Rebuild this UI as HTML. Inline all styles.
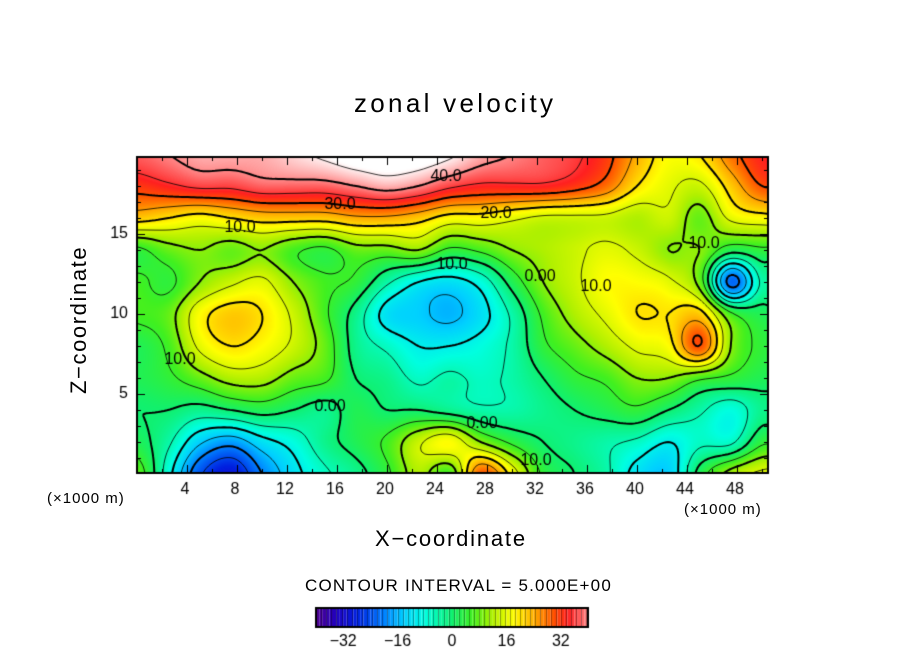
<!DOCTYPE html>
<html><head><meta charset="utf-8">
<style>
body{margin:0;background:#fff;width:904px;height:654px;overflow:hidden;position:relative;font-family:"Liberation Sans",sans-serif;}
.t{position:absolute;color:#000;white-space:nowrap;}
canvas{position:absolute;left:0;top:0;}
</style></head><body>
<canvas id="c" width="904" height="654"></canvas>
<div class="t" style="left:354px;top:88px;font-size:26px;letter-spacing:3.3px">zonal velocity</div>
<div class="t" style="left:375px;top:526px;font-size:22px;letter-spacing:1.8px">X&#8722;coordinate</div>
<div class="t" style="left:66px;top:394px;font-size:22px;letter-spacing:1.6px;transform:rotate(-90deg);transform-origin:0 0">Z&#8722;coordinate</div>
<div class="t" style="left:47px;top:490px;font-size:15px;letter-spacing:1px">(×1000 m)</div>
<div class="t" style="left:684px;top:501px;font-size:15px;letter-spacing:1px">(×1000 m)</div>
<div class="t" style="left:305px;top:576px;font-size:17px;letter-spacing:1.2px">CONTOUR INTERVAL = 5.000E+00</div>
<script>
const xs=[0,2.5,5,7.5,10,12.5,15,17.5,20,22.5,25,27.5,30,32.5,35,37.5,40,42.5,45,47.5,50];
const zs=[20,18,16,14,12,10,8,6,4,2,0];
const r20=[38,40,42,42,42,44,46,48,48,48,46,42,40,38,36,32,24,18,20,28,34];
const r18=[32,34,36,36,38,38,38,40,42,40,36,34,34,34,32,28,20,16,14,22,30];
const r16=[22,20,18,20,22,22,22,24,24,22,18,18,16,14,14,14,12,14,8,16,18];
const r14=[4,8,10,8,10,6,4,8,8,10,4,6,10,12,14,16,14,10,10,2,4];
const r12=[6,4,10,14,16,10,6,4,-4,-10,-12,-8,2,10,14,18,18,16,8,-22,-4];
const r10=[6,8,18,22,20,14,6,-2,-12,-14,-16,-12,-4,6,12,16,20,20,22,6,2];
const r8=[2,6,16,20,18,14,8,-2,-6,-10,-10,-8,-4,4,8,12,16,18,30,10,4];
const r6=[2,4,8,12,12,8,6,0,-2,-6,-4,-6,-4,0,4,6,10,10,6,4,2];
const r4=[0,0,-2,0,2,0,-2,2,0,0,-2,-4,-4,-2,0,2,4,0,-4,-8,-2];
const r2=[2,-4,-14,-18,-12,-8,-2,2,6,14,18,10,4,0,-2,-4,-6,-10,-6,-6,4];
const r0=[8,-8,-24,-30,-20,-12,-6,-2,4,12,6,30,18,4,0,-4,-12,-14,2,12,16];
const grid=[r20,r18,r16,r14,r12,r10,r8,r6,r4,r2,r0];
const xTicks=[4,8,12,16,20,24,28,32,36,40,44,48];
const zTicks=[5,10,15];
const cbTicks=[-32,-16,0,16,32];

const L=137,R=768,T=157,B=473;
const X0=137,XS=12.5,Z0=474,ZS=16;
const px=x=>X0+x*XS, pz=z=>Z0-z*ZS;
const stops=[[-40,[80,0,144]],[-34,[32,0,192]],[-28,[0,32,224]],[-20,[0,128,255]],[-14,[0,208,255]],[-8,[0,255,224]],[0,[16,240,112]],[6,[64,240,32]],[12,[176,240,0]],[18,[255,255,0]],[24,[255,176,0]],[30,[255,80,0]],[34,[255,32,32]],[38,[255,96,96]],[42,[255,176,176]],[46,[255,255,255]]];
function col(v){if(v<=stops[0][0])return stops[0][1];for(let i=1;i<stops.length;i++){if(v<=stops[i][0]){const a=stops[i-1],b=stops[i],t=(v-a[0])/(b[0]-a[0]);return a[1].map((c,k)=>Math.round(c+(b[1][k]-c)*t));}}return stops[stops.length-1][1];}
const nx=xs.length,nz=zs.length;
function g(i,j){i=Math.max(0,Math.min(nz-1,i));j=Math.max(0,Math.min(nx-1,j));return grid[i][j];}
function cr(p0,p1,p2,p3,t){return p1+0.5*t*(p2-p0+t*(2*p0-5*p1+4*p2-p3+t*(3*(p1-p2)+p3-p0)));}
function val(x,z){const fj=(x-xs[0])/(xs[1]-xs[0]);const fi=(zs[0]-z)/(zs[0]-zs[1]);
 let j=Math.floor(fj),i=Math.floor(fi);j=Math.max(0,Math.min(nx-2,j));i=Math.max(0,Math.min(nz-2,i));const tx=fj-j,tz=fi-i;
 const rows=[];for(let a=-1;a<3;a++)rows.push(cr(g(i+a,j-1),g(i+a,j),g(i+a,j+1),g(i+a,j+2),tx));
 return cr(rows[0],rows[1],rows[2],rows[3],tz);}
const c=document.getElementById('c'),ctx=c.getContext('2d');
const W=R-L,H=B-T;const img=ctx.createImageData(W,H);
const F=[];const st=3;const fw=Math.ceil(W/st)+1,fh=Math.ceil(H/st)+1;
for(let r=0;r<fh;r++){F.push([]);for(let q=0;q<fw;q++){const x=(L+q*st-X0)/XS,z=(Z0-(T+r*st))/ZS;F[r].push(val(x,z));}}
for(let yy=0;yy<H;yy++)for(let xx=0;xx<W;xx++){const x=(L+xx-X0)/XS,z=(Z0-(T+yy))/ZS;const v=val(x,z);const cc=col(v);const o=(yy*W+xx)*4;img.data[o]=cc[0];img.data[o+1]=cc[1];img.data[o+2]=cc[2];img.data[o+3]=255;}
ctx.putImageData(img,L,T);
ctx.save();ctx.beginPath();ctx.rect(L,T,W,H);ctx.clip();
for(let lev=-40;lev<=45;lev+=5){
 ctx.beginPath();
 for(let r=0;r<fh-1;r++)for(let q=0;q<fw-1;q++){
  const a=F[r][q],b=F[r][q+1],d=F[r+1][q],e=F[r+1][q+1];
  const pts=[];const X=L+q*st,Y=T+r*st;
  const ed=(v1,v2,x1,y1,x2,y2)=>{if((v1<lev)!==(v2<lev)){const t=(lev-v1)/(v2-v1);pts.push([x1+(x2-x1)*t,y1+(y2-y1)*t]);}};
  ed(a,b,X,Y,X+st,Y);ed(b,e,X+st,Y,X+st,Y+st);ed(e,d,X+st,Y+st,X,Y+st);ed(d,a,X,Y+st,X,Y);
  for(let k=0;k+1<pts.length;k+=2){ctx.moveTo(pts[k][0],pts[k][1]);ctx.lineTo(pts[k+1][0],pts[k+1][1]);}
 }
 ctx.strokeStyle='#000';ctx.lineWidth=(lev%10===0)?2:0.8;
 ctx.setLineDash(lev<0?[6,4]:[]);ctx.stroke();
}
ctx.restore();ctx.setLineDash([]);
ctx.strokeStyle='#000';ctx.lineWidth=2;ctx.strokeRect(L,T,W,H);
ctx.lineWidth=1;ctx.beginPath();
for(let x=2;x<=50;x+=2){const p=px(x)+0.5;const len=x%4===0?8:4;ctx.moveTo(p,B);ctx.lineTo(p,B-len);ctx.moveTo(p,T);ctx.lineTo(p,T+len);}
for(let z=1;z<=19;z++){const p=pz(z)+0.5;const len=z%5===0?8:4;ctx.moveTo(L,p);ctx.lineTo(L+len,p);ctx.moveTo(R,p);ctx.lineTo(R-len,p);}
ctx.stroke();
ctx.fillStyle='#000';ctx.font='16px "Liberation Sans", sans-serif';ctx.textAlign='center';ctx.textBaseline='middle';
xTicks.forEach(x=>ctx.fillText(String(x),px(x)-2,490));
ctx.textAlign='right';zTicks.forEach(z=>ctx.fillText(String(z),128,pz(z)));
const CL=316,CR=588,CT=608,CB=627,cs=(CR-CL)/80;
for(let v=-40;v<40;v+=1){const cc=col(v+0.5);ctx.fillStyle=`rgb(${cc[0]},${cc[1]},${cc[2]})`;ctx.fillRect(CL+(v+40)*cs,CT,cs,CB-CT);}
ctx.strokeStyle='#000';ctx.lineWidth=1;ctx.beginPath();
for(let v=-40;v<=40;v+=1.5){const p=Math.round(CL+(v+40)*cs)+0.5;ctx.moveTo(p,CT);ctx.lineTo(p,CB);}
ctx.globalAlpha=0.35;ctx.stroke();ctx.globalAlpha=1;
ctx.lineWidth=2;ctx.strokeRect(CL,CT,CR-CL,CB-CT);
ctx.fillStyle='#000';ctx.textAlign='center';
cbTicks.forEach(v=>ctx.fillText((v<0?'\u2212':'')+Math.abs(v),CL+(v+40)*cs,642));
ctx.font='16px "Liberation Sans", sans-serif';
[["40.0",446,177],["30.0",340,205],["20.0",496,214],["10.0",240,228],["10.0",704,244],["10.0",452,265],["10.0",596,287],["10.0",180,360],["0.00",330,407],["0.00",482,424],["0.00",540,277],["10.0",536,461]].forEach(l=>{ctx.fillText(l[0],l[1],l[2]);});
</script>
</body></html>
